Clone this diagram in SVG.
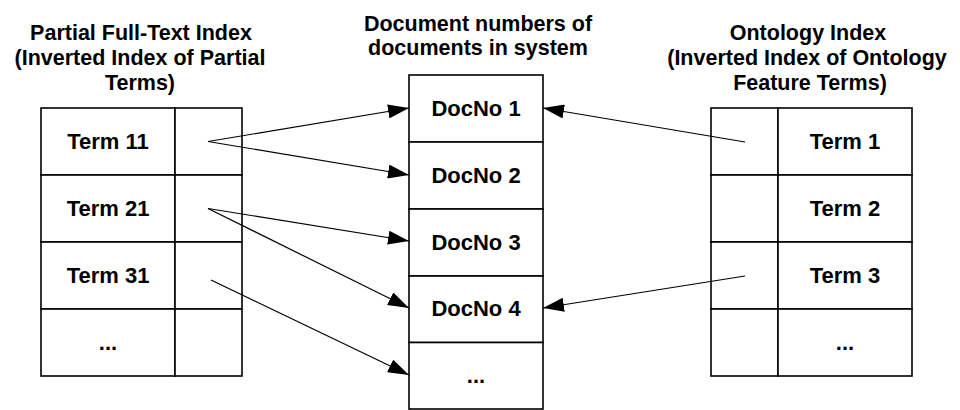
<svg xmlns="http://www.w3.org/2000/svg" width="960" height="410" viewBox="0 0 960 410">
<style>
  .cell { fill: #ffffff; stroke: #000000; stroke-width: 1.6; }
  .lbl { font-family: "Liberation Sans", Arial, sans-serif; font-weight: bold; font-size: 22px; fill: #000000; text-anchor: middle; }
  .ttl { font-family: "Liberation Sans", Arial, sans-serif; font-weight: bold; font-size: 21.5px; fill: #000000; text-anchor: middle; }
  .conn { stroke: #000000; stroke-width: 1.2; fill: none; marker-end: url(#arrow); }
</style>
<defs>
  <marker id="arrow" markerUnits="userSpaceOnUse" markerWidth="21" markerHeight="14" refX="21" refY="7" orient="auto">
    <path d="M0,0 L21,7 L0,14 Z" fill="#000000"/>
  </marker>
</defs>
<rect x="0" y="0" width="960" height="410" fill="#ffffff"/>

<g id="title-left">
  <text class="ttl" x="141" y="40">Partial Full-Text Index</text>
  <text class="ttl" x="140" y="65">(Inverted Index of Partial</text>
  <text class="ttl" x="140" y="90">Terms)</text>
</g>
<g id="title-middle">
  <text class="ttl" x="478" y="31">Document numbers of</text>
  <text class="ttl" x="478" y="55">documents in system</text>
</g>
<g id="title-right">
  <text class="ttl" x="808" y="40">Ontology Index</text>
  <text class="ttl" x="807" y="65">(Inverted Index of Ontology</text>
  <text class="ttl" x="810" y="90">Feature Terms)</text>
</g>

<g id="partial-index">
  <g id="term11"><rect class="cell" x="41" y="108" width="134" height="67"/><rect class="cell" x="175" y="108" width="67" height="67"/><text class="lbl" x="108" y="149">Term 11</text></g>
  <g id="term21"><rect class="cell" x="41" y="175" width="134" height="67"/><rect class="cell" x="175" y="175" width="67" height="67"/><text class="lbl" x="108" y="216">Term 21</text></g>
  <g id="term31"><rect class="cell" x="41" y="242" width="134" height="67"/><rect class="cell" x="175" y="242" width="67" height="67"/><text class="lbl" x="108" y="283">Term 31</text></g>
  <g id="term-more-left"><rect class="cell" x="41" y="309" width="134" height="67"/><rect class="cell" x="175" y="309" width="67" height="67"/><text class="lbl" x="108" y="350">...</text></g>
</g>

<g id="doc-numbers">
  <g id="doc1"><rect class="cell" x="409" y="75" width="134" height="67"/><text class="lbl" x="476" y="116">DocNo 1</text></g>
  <g id="doc2"><rect class="cell" x="409" y="142" width="134" height="67"/><text class="lbl" x="476" y="183">DocNo 2</text></g>
  <g id="doc3"><rect class="cell" x="409" y="209" width="134" height="67"/><text class="lbl" x="476" y="250">DocNo 3</text></g>
  <g id="doc4"><rect class="cell" x="409" y="276" width="134" height="66.5"/><text class="lbl" x="476" y="316">DocNo 4</text></g>
  <g id="doc-more"><rect class="cell" x="409" y="342.5" width="134" height="66.5"/><text class="lbl" x="476" y="383">...</text></g>
</g>

<g id="ontology-index">
  <g id="term1"><rect class="cell" x="711" y="108" width="67" height="67"/><rect class="cell" x="778" y="108" width="134" height="67"/><text class="lbl" x="845" y="149">Term 1</text></g>
  <g id="term2"><rect class="cell" x="711" y="175" width="67" height="67"/><rect class="cell" x="778" y="175" width="134" height="67"/><text class="lbl" x="845" y="216">Term 2</text></g>
  <g id="term3"><rect class="cell" x="711" y="242" width="67" height="67"/><rect class="cell" x="778" y="242" width="134" height="67"/><text class="lbl" x="845" y="283">Term 3</text></g>
  <g id="term-more-right"><rect class="cell" x="711" y="309" width="67" height="67"/><rect class="cell" x="778" y="309" width="134" height="67"/><text class="lbl" x="845" y="350">...</text></g>
</g>

<g id="connectors">
  <line class="conn" x1="208" y1="141.5" x2="409" y2="108"/>
  <line class="conn" x1="208" y1="141.5" x2="409" y2="175"/>
  <line class="conn" x1="208" y1="208.5" x2="409" y2="241"/>
  <line class="conn" x1="208" y1="208.5" x2="409" y2="308"/>
  <line class="conn" x1="211" y1="280" x2="409" y2="375"/>
  <line class="conn" x1="745" y1="142" x2="543" y2="108"/>
  <line class="conn" x1="745" y1="276" x2="543" y2="308"/>
</g>
</svg>
